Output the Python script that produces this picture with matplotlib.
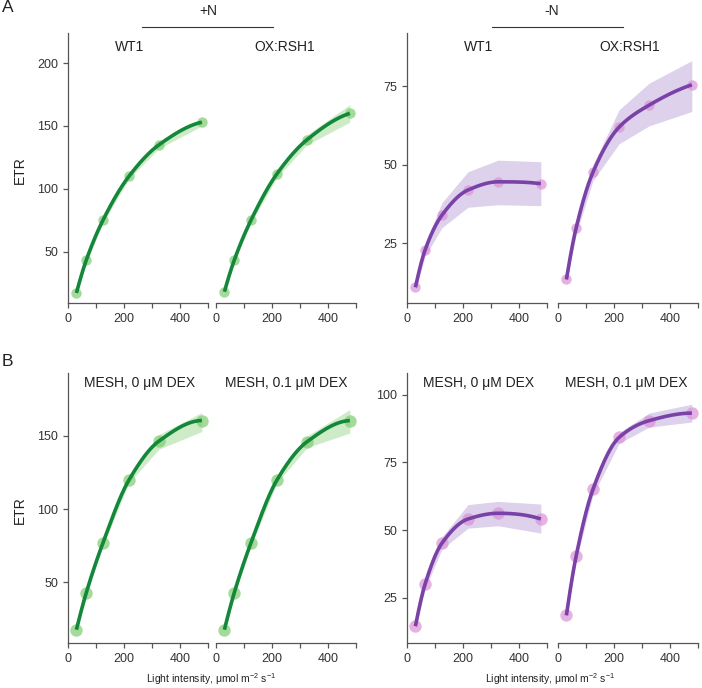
import numpy as np
import matplotlib
matplotlib.use("Agg")
import matplotlib.pyplot as plt

plt.rcParams["font.family"] = ["Liberation Sans", "DejaVu Sans"]
plt.rcParams["mathtext.default"] = "regular"

# light intensity steps (umol m-2 s-1)
light = [30, 65, 125, 218, 325, 478]

# panel A, +N
a_pn_wt1 = [17, 43, 75, 110, 135, 153]
a_pn_wt1_lo = [16, 41, 73, 108, 132, 150]
a_pn_wt1_hi = [18, 45, 77, 112, 138, 155]
a_pn_ox = [18, 43, 75, 112, 139, 160]
a_pn_ox_lo = [17, 42, 73, 109, 135, 153]
a_pn_ox_hi = [19, 44, 77, 115, 143, 167]
# panel A, -N
a_mn_wt1 = [11, 23, 34, 42, 44.6, 44]
a_mn_wt1_lo = [10, 21, 30, 36.5, 37.3, 37]
a_mn_wt1_hi = [12, 25, 38, 47.8, 51.5, 51]
a_mn_ox = [13.5, 30, 47.7, 62, 69, 75.5]
a_mn_ox_lo = [12.5, 28, 45, 56.7, 62.4, 67]
a_mn_ox_hi = [14.5, 32, 50, 67.5, 76, 83.2]
# panel B, +N
b_pn_0 = [17.6, 42.7, 77, 120, 146.5, 160.5]
b_pn_0_lo = [16.5, 41, 75, 118, 141, 153]
b_pn_0_hi = [18.5, 44, 79, 122, 151, 166]
b_pn_01 = [17.6, 42.7, 77, 120, 146, 160.5]
b_pn_01_lo = [16.5, 41, 75, 118, 142, 152]
b_pn_01_hi = [18.5, 44, 79, 122, 150, 168]
# panel B, -N
b_mn_0 = [14.5, 30.2, 45.2, 54.1, 56.2, 54.1]
b_mn_0_lo = [13.5, 28.5, 43, 50.7, 51.6, 48.9]
b_mn_0_hi = [15.5, 32, 47.5, 59.4, 60.6, 59.6]
b_mn_01 = [18.5, 40.5, 65.1, 84.2, 90.4, 93.2]
b_mn_01_lo = [17.5, 39, 63, 82, 88, 89.9]
b_mn_01_hi = [19.5, 42, 67, 86, 93.2, 96.5]

W, H = 702, 688
fig = plt.figure(figsize=(W / 100, H / 100), dpi=100)

GREEN = dict(line="#13873a", dot="#7fcc70", band="#a6dc9c")
PURPLE = dict(line="#7a42a6", dot="#db92d6", band="#c4acdc")


def pchip(x, y, xs):
    # monotone cubic hermite curve through the points
    x = np.asarray(x, float)
    y = np.asarray(y, float)
    h = np.diff(x)
    d = np.diff(y) / h
    n = len(x)
    m = np.zeros(n)
    for k in range(1, n - 1):
        if d[k - 1] * d[k] > 0:
            w1 = 2 * h[k] + h[k - 1]
            w2 = h[k] + 2 * h[k - 1]
            m[k] = (w1 + w2) / (w1 / d[k - 1] + w2 / d[k])
    for k, (h0, h1, d0, d1) in [(0, (h[0], h[1], d[0], d[1])),
                                (n - 1, (h[-1], h[-2], d[-1], d[-2]))]:
        s = ((2 * h0 + h1) * d0 - h0 * d1) / (h0 + h1)
        if np.sign(s) != np.sign(d0):
            s = 0
        elif np.sign(d0) != np.sign(d1) and abs(s) > abs(3 * d0):
            s = 3 * d0
        m[k] = s
    idx = np.clip(np.searchsorted(x, xs) - 1, 0, n - 2)
    t = (xs - x[idx]) / h[idx]
    h00 = 2 * t**3 - 3 * t**2 + 1
    h10 = t**3 - 2 * t**2 + t
    h01 = -2 * t**3 + 3 * t**2
    h11 = t**3 - t**2
    return (h00 * y[idx] + h10 * h[idx] * m[idx] + h01 * y[idx + 1]
            + h11 * h[idx] * m[idx + 1])


def add_ax(x0, x1, ytop, ybot):
    return fig.add_axes([x0 / W, 1 - ybot / H, (x1 - x0) / W, (ybot - ytop) / H])


def draw(ax, y, lo, hi, col, title, tx, ty, ylim, yticks, msize, first):
    x = np.asarray(light)
    ax.fill_between(x, lo, hi, color=col["band"], alpha=0.55, lw=0, zorder=1)
    ax.scatter(x, y, s=msize, color=col["dot"], alpha=0.7, lw=0, zorder=2)
    xs = np.linspace(x[0], x[-1], 300)
    ax.plot(xs, pchip(x, y, xs), color=col["line"], lw=2.6, zorder=3,
            solid_capstyle="butt")
    ax.set_xlim(0, 500)
    ax.set_ylim(*ylim)
    ax.set_xticks([0, 100, 200, 300, 400, 500])
    ax.set_xticklabels(["0", "", "200", "", "400", ""])
    for s in ["top", "right"]:
        ax.spines[s].set_visible(False)
    for s in ["left", "bottom"]:
        ax.spines[s].set_color("#555555")
        ax.spines[s].set_linewidth(0.9)
    ax.tick_params(colors="#555555", labelcolor="#333333", labelsize=9,
                   length=3.5, width=0.9)
    if first:
        ax.set_yticks(yticks)
    else:
        ax.spines["left"].set_visible(False)
        ax.set_yticks([])
    ax.text(tx, ty, title, transform=ax.transAxes, ha="center", va="center",
            fontsize=10, color="#222222")
    ax.patch.set_alpha(0)


cols_x = [(68, 208), (216, 356), (407, 547), (558, 698)]

rows = [
    (33, 303, 0.948, 56,
     [(a_pn_wt1, a_pn_wt1_lo, a_pn_wt1_hi, GREEN, "WT1", 0.44),
      (a_pn_ox, a_pn_ox_lo, a_pn_ox_hi, GREEN, "OX:RSH1", 0.49),
      (a_mn_wt1, a_mn_wt1_lo, a_mn_wt1_hi, PURPLE, "WT1", 0.51),
      (a_mn_ox, a_mn_ox_lo, a_mn_ox_hi, PURPLE, "OX:RSH1", 0.51)],
     [(9, 224), (6, 92)], [[50, 100, 150, 200], [25, 50, 75]]),
    (373, 643, 0.963, 80,
     [(b_pn_0, b_pn_0_lo, b_pn_0_hi, GREEN, "MESH, 0 μM DEX", 0.51),
      (b_pn_01, b_pn_01_lo, b_pn_01_hi, GREEN, "MESH, 0.1 μM DEX", 0.50),
      (b_mn_0, b_mn_0_lo, b_mn_0_hi, PURPLE, "MESH, 0 μM DEX", 0.51),
      (b_mn_01, b_mn_01_lo, b_mn_01_hi, PURPLE, "MESH, 0.1 μM DEX", 0.49)],
     [(8.5, 193), (8.3, 108)], [[50, 100, 150], [25, 50, 75, 100]]),
]

for ytop, ybot, ty, ms, panels, ylims, yticks in rows:
    for i, (y, lo, hi, col, title, tx) in enumerate(panels):
        ax = add_ax(cols_x[i][0], cols_x[i][1], ytop, ybot)
        g = i // 2
        draw(ax, y, lo, hi, col, title, tx, ty, ylims[g], yticks[g], ms, i % 2 == 0)

# group headers
for label, xc, x0, x1 in [("+N", 208, 142, 273), ("-N", 552, 492, 623)]:
    fig.text(xc / W, 1 - 11 / H, label, ha="center", va="center", fontsize=10,
             color="#222222")
    fig.add_artist(plt.Line2D([x0 / W, x1 / W], [1 - 27 / H, 1 - 27 / H],
                              color="#333333", lw=0.8))

# panel letters and y labels
fig.text(2 / W, 1 - 8 / H, "A", ha="left", va="center", fontsize=12.5, color="#222222")
fig.text(2 / W, 1 - 361 / H, "B", ha="left", va="center", fontsize=12.5, color="#222222")
for yc in [170, 510]:
    fig.text(20 / W, 1 - yc / H, "ETR", rotation=90, ha="center", va="center",
             fontsize=10, color="#222222")

for xc in [211, 550]:
    fig.text(xc / W, 1 - 679 / H, r"Light intensity, μmol m$^{-2}$ s$^{-1}$",
             ha="center", va="center", fontsize=7.5, color="#222222")

fig.savefig("out.png", dpi=100)
